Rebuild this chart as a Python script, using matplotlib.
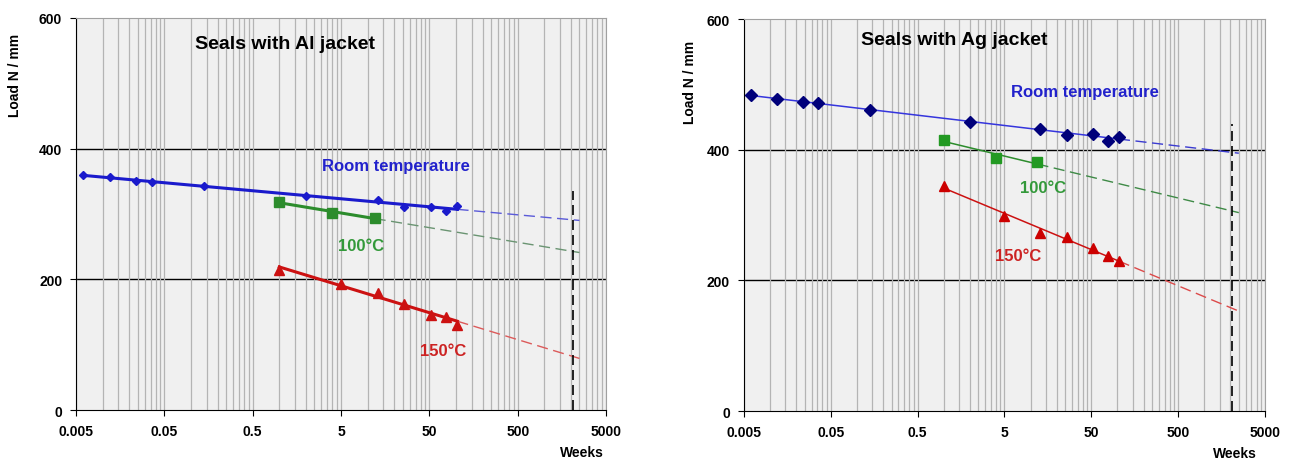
import numpy as np
import matplotlib
matplotlib.use('Agg')
import matplotlib.pyplot as plt
from matplotlib.ticker import NullFormatter

plt.rcParams['font.family'] = ['Liberation Sans', 'DejaVu Sans']
plt.rcParams['font.weight'] = 'bold'

# test times in weeks (1 h, 2 h, 4 h, 6 h, 1 d, 2 w, 3 m, 6 m, 1 y, 1.5 y, 2 y)
weeks_rt = [0.006, 0.012, 0.024, 0.036, 0.14, 2, 13, 26, 52, 78, 104]
weeks_100 = [1, 4, 12]
weeks_150 = [1, 5, 13, 26, 52, 78, 104]

# Al jacket, load N/mm
al_rt = [360, 356, 351, 349, 343, 327, 321, 311, 310, 305, 313]
al_100 = [318, 302, 294]
al_150 = [214, 193, 179, 163, 146, 143, 130]

# Ag jacket, load N/mm
ag_rt = [484, 478, 473, 472, 460, 442, 432, 423, 424, 414, 420]
ag_100 = [415, 388, 381]
ag_150 = [345, 299, 273, 266, 249, 237, 229]

extrap_end = 2500      # weeks, end of dashed extrapolation
lifetime = 2087        # 40 years in weeks
lifetime_top = {'al': 335, 'ag': 440}

xticks = [0.005, 0.05, 0.5, 5, 50, 500, 5000]
xticklabels = ['0.005', '0.05', '0.5', '5', '50', '500', '5000']
yticks = [0, 200, 400, 600]


def trend(x, y):
    # log-linear trendline like the spreadsheet one
    k, b = np.polyfit(np.log10(x), y, 1)
    return lambda t: k * np.log10(t) + b


def draw_series(ax, x, y, color, marker, ms, lw, mcolor, dcolor):
    f = trend(x, y)
    xs = np.array([x[0], x[-1]])
    ax.plot(xs, f(xs), color=color, lw=lw, zorder=3)
    xd = np.array([x[-1], extrap_end])
    ax.plot(xd, f(xd), color=dcolor, lw=1.0, dashes=(8, 4), zorder=3)
    ax.plot(x, y, ls='none', marker=marker, ms=ms, color=mcolor, zorder=4)


def setup(ax):
    ax.set_facecolor('#f0f0f0')
    ax.set_xscale('log')
    ax.set_xlim(0.005, 5000)
    ax.set_ylim(0, 600)
    minors = [0.005 * k * 10 ** n for n in range(6) for k in range(2, 10)]
    ax.set_xticks(minors, minor=True)
    ax.xaxis.set_minor_formatter(NullFormatter())
    ax.set_xticks(xticks)
    ax.set_xticklabels(xticklabels)
    ax.set_yticks(yticks)
    ax.tick_params(axis='x', which='minor', length=0)
    ax.tick_params(axis='both', which='major', direction='out', length=4,
                   labelsize=10, pad=6, color='black')
    ax.grid(axis='x', which='both', color='#b4b4b4', lw=0.9, zorder=0)
    ax.hlines(yticks[1:-1], 0.005, 5000, colors='black', lw=1.0, zorder=1)
    for s in ['top', 'right']:
        ax.spines[s].set_color('#a0a0a0')
    for s in ['left', 'bottom']:
        ax.spines[s].set_color('black')
    for lab in ax.get_xticklabels() + ax.get_yticklabels():
        lab.set_fontweight('bold')


fig = plt.figure(figsize=(12.93, 4.6), dpi=100)
ax1 = fig.add_axes([0.0588, 0.1065, 0.4099, 0.8522])
ax2 = fig.add_axes([0.5754, 0.1043, 0.4029, 0.8522])

# left: Al jacket
setup(ax1)
draw_series(ax1, weeks_rt, al_rt, '#1a1acc', 'D', 4.5, 2.2, '#1a1acc', '#5a5ad8')
draw_series(ax1, weeks_100, al_100, '#2c8c2c', 's', 7, 2.2, '#2c8c2c', '#6a9472')
draw_series(ax1, weeks_150, al_150, '#cc1111', '^', 7, 2.2, '#cc1111', '#dc5a5a')
ax1.vlines(lifetime, 0, lifetime_top['al'], colors='black', lw=1.2,
           linestyles=(0, (6, 3)), zorder=5)
ax1.text(0.394, 0.936, 'Seals with Al jacket', transform=ax1.transAxes,
         ha='center', va='center', fontsize=14, fontweight='bold')
ax1.text(0.603, 0.623, 'Room temperature', transform=ax1.transAxes,
         ha='center', va='center', fontsize=12, fontweight='bold', color='#2222cc')
ax1.text(0.538, 0.42, '100°C', transform=ax1.transAxes,
         ha='center', va='center', fontsize=12, fontweight='bold', color='#33993a')
ax1.text(0.692, 0.153, '150°C', transform=ax1.transAxes,
         ha='center', va='center', fontsize=12, fontweight='bold', color='#cc2222')
ax1.text(-0.115, 0.857, 'Load N / mm', transform=ax1.transAxes, rotation=90,
         ha='center', va='center', fontsize=10, fontweight='bold')
ax1.text(0.955, -0.107, 'Weeks', transform=ax1.transAxes,
         ha='center', va='center', fontsize=10, fontweight='bold')

# right: Ag jacket
setup(ax2)
draw_series(ax2, weeks_rt, ag_rt, '#3535dd', 'D', 6, 1.1, '#00007a', '#3a3ad0')
draw_series(ax2, weeks_100, ag_100, '#2c8c2c', 's', 7.5, 1.1, '#229922', '#3e8a46')
draw_series(ax2, weeks_150, ag_150, '#cc1111', '^', 7, 1.1, '#cc0000', '#dc4a4a')
ax2.vlines(lifetime, 0, lifetime_top['ag'], colors='black', lw=1.2,
           linestyles=(0, (6, 3)), zorder=5)
ax2.text(0.404, 0.947, 'Seals with Ag jacket', transform=ax2.transAxes,
         ha='center', va='center', fontsize=14, fontweight='bold')
ax2.text(0.654, 0.815, 'Room temperature', transform=ax2.transAxes,
         ha='center', va='center', fontsize=12, fontweight='bold', color='#2222cc')
ax2.text(0.574, 0.570, '100°C', transform=ax2.transAxes,
         ha='center', va='center', fontsize=12, fontweight='bold', color='#33993a')
ax2.text(0.527, 0.396, '150°C', transform=ax2.transAxes,
         ha='center', va='center', fontsize=12, fontweight='bold', color='#cc2222')
ax2.text(-0.104, 0.842, 'Load N / mm', transform=ax2.transAxes, rotation=90,
         ha='center', va='center', fontsize=10, fontweight='bold')
ax2.text(0.942, -0.107, 'Weeks', transform=ax2.transAxes,
         ha='center', va='center', fontsize=10, fontweight='bold')

fig.savefig('out.png', dpi=100)
